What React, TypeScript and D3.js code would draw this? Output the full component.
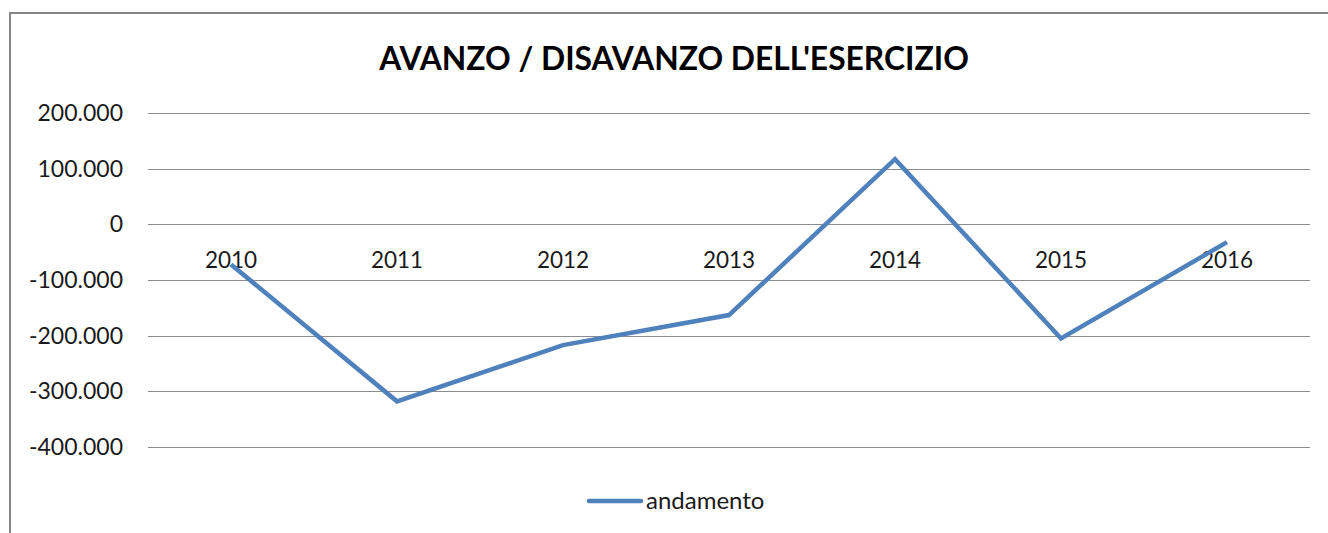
import { useEffect, useRef } from 'react';
import * as d3 from 'd3';

const years = ['2010', '2011', '2012', '2013', '2014', '2015', '2016'];
const andamento = [-72000, -318000, -217000, -163000, 117000, -205000, -32000];
const yTicks = [200000, 100000, 0, -100000, -200000, -300000, -400000];

const fmt = (v: number) =>
  v === 0 ? '0' : d3.format(',')(v).replace(/,/g, '.').replace('−', '-');

export default function App() {
  const ref = useRef<SVGSVGElement | null>(null);

  useEffect(() => {
    if (!ref.current) return;
    const svg = d3.select(ref.current);
    svg.selectAll('*').remove();

    const width = 1328;
    const height = 533;
    const left = 148;
    const right = 1310;
    const top = 113;
    const bottom = 447;
    const font = 'Lato, "Open Sans", sans-serif';

    const x = d3.scaleBand<string>().domain(years).range([left, right]);
    const y = d3.scaleLinear().domain([-400000, 200000]).range([bottom, top]);

    // chart frame (cropped on the right and bottom)
    svg.append('rect')
      .attr('x', 10).attr('y', 13)
      .attr('width', width + 20).attr('height', height + 20)
      .attr('fill', '#fff')
      .attr('stroke', '#868686')
      .attr('stroke-width', 2);

    svg.append('text')
      .attr('x', 674).attr('y', 70)
      .attr('text-anchor', 'middle')
      .attr('font-family', font)
      .attr('font-weight', 'bold')
      .attr('font-size', 31.8)
      .attr('fill', '#000')
      .text("AVANZO / DISAVANZO DELL'ESERCIZIO");

    const grid = svg.append('g');
    yTicks.forEach((t) => {
      grid.append('line')
        .attr('x1', left).attr('x2', right)
        .attr('y1', Math.round(y(t)) + 0.5).attr('y2', Math.round(y(t)) + 0.5)
        .attr('stroke', '#8c8c8c')
        .attr('stroke-width', 1);
      grid.append('text')
        .attr('x', 123).attr('y', y(t))
        .attr('dy', '0.35em')
        .attr('text-anchor', 'end')
        .attr('font-family', font)
        .attr('font-size', 23)
        .attr('fill', '#1a1a1a')
        .text(fmt(t));
    });

    years.forEach((yr) => {
      svg.append('text')
        .attr('x', (x(yr) ?? 0) + x.bandwidth() / 2)
        .attr('y', y(0) + 44)
        .attr('text-anchor', 'middle')
        .attr('font-family', font)
        .attr('font-size', 22.5)
        .attr('fill', '#1a1a1a')
        .text(yr);
    });

    const line = d3.line<number>()
      .x((_, i) => (x(years[i]) ?? 0) + x.bandwidth() / 2)
      .y((d) => y(d));

    svg.append('path')
      .attr('d', line(andamento) as string)
      .attr('fill', 'none')
      .attr('stroke', '#4f81bd')
      .attr('stroke-width', 4.5)
      .attr('stroke-linejoin', 'miter');

    // legend
    svg.append('line')
      .attr('x1', 589).attr('x2', 641)
      .attr('y1', 501).attr('y2', 501)
      .attr('stroke', '#4f81bd')
      .attr('stroke-width', 4.5)
      .attr('stroke-linecap', 'round');
    svg.append('text')
      .attr('x', 646).attr('y', 501)
      .attr('dy', '0.35em')
      .attr('font-family', font)
      .attr('font-size', 24)
      .attr('fill', '#1a1a1a')
      .text('andamento');
  }, []);

  return (
    <>
      <style>{'body{margin:0}'}</style>
      <svg ref={ref} width={1328} height={533} viewBox="0 0 1328 533" style={{ display: 'block' }} />
    </>
  );
}
